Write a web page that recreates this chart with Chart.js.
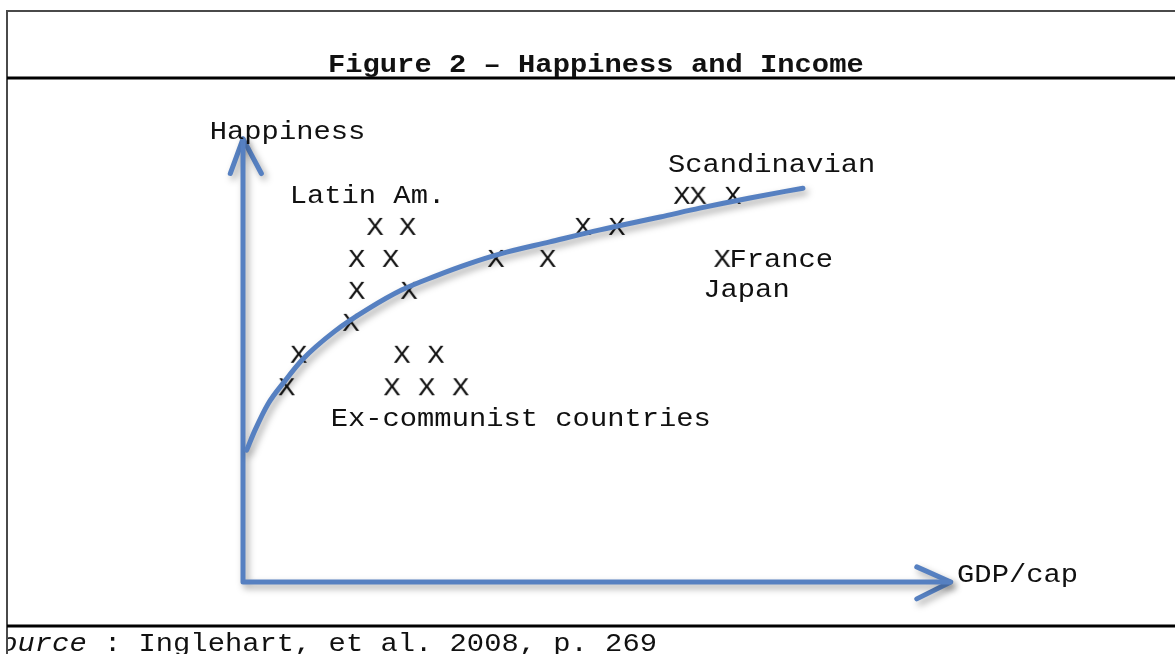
<!DOCTYPE html>
<html>
<head>
<meta charset="utf-8">
<script src="https://cdn.jsdelivr.net/npm/chart.js@4.4.0/dist/chart.umd.min.js"></script>
<style>
  html, body { margin:0; padding:0; background:#fff; }
  #wrap { position:relative; width:1175px; height:654px; overflow:hidden; }
</style>
</head>
<body>
<div id="wrap"><canvas id="c"></canvas></div>
<script>
// ── Data (GDP/cap on x, Happiness on y, arbitrary 0–100 units) ──
const curveGdp   = [0.52, 1.70, 3.54, 5.94, 8.35, 13.0, 17.7, 22.5, 27.2, 31.8, 36.4, 43.4, 50.5, 59.0, 64.6, 71.7, 79.2];
const curveHappy = [29.7, 34.2, 40.1, 45.3, 50.0, 56.5, 61.5, 65.8, 68.9, 71.6, 73.9, 76.6, 79.3, 82.2, 84.2, 86.5, 88.7];

// country marks ("X")
const markGdp   = [18.7, 23.3, 16.1, 20.9, 16.1, 23.5, 15.3, 7.9, 6.2,
                   22.5, 27.3, 21.1, 26.0, 30.8,
                   35.8, 43.1, 48.1, 52.9,
                   62.1, 64.4, 69.3, 67.8];
const markHappy = [80.2, 80.2, 73.0, 73.0, 65.8, 65.8, 58.6, 51.4, 44.1,
                   51.4, 51.4, 44.1, 44.1, 44.1,
                   73.0, 73.0, 80.2, 80.2,
                   87.2, 87.2, 87.2, 73.0];

// axes and arrow heads
const axisGdp    = [0, 0, 100];
const axisHappy  = [99.8, 0, 0];
const yArrowGdp   = [-1.8, 0, 2.6];
const yArrowHappy = [92.0, 99.8, 92.0];
const xArrowGdp   = [95.3, 100.1, 95.3];
const xArrowHappy = [3.4, 0, -3.8];

// annotations (left edge, baseline)
const labelText  = ['Happiness', 'Latin Am.', 'Scandinavian', 'France', 'Japan', 'Ex-communist countries', 'GDP/cap'];
const labelGdp   = [-4.7, 6.6, 60.1, 68.8, 65.1, 12.4, 101.0];
const labelHappy = [99.8, 85.4, 92.3, 70.9, 64.2, 35.1, 0.0];

const BLUE = '#5680c1';
const FONT = '28.8px "Liberation Mono", "DejaVu Sans Mono", monospace';
const SQUASH = 0.88;

const pts = (xs, ys) => xs.map((x, i) => ({ x, y: ys[i] }));

function fillSquashed(g, text, x, y) {
  g.save();
  g.translate(x, y);
  g.scale(1, SQUASH);
  g.fillText(text, 0, 0);
  g.restore();
}

// "X" glyph used as point style
function makeX() {
  const c = document.createElement('canvas');
  c.width = 24; c.height = 24;
  const g = c.getContext('2d');
  g.font = FONT;
  g.fillStyle = '#111';
  g.textAlign = 'center';
  g.textBaseline = 'alphabetic';
  const m = g.measureText('X');
  const h = (m.actualBoundingBoxAscent - m.actualBoundingBoxDescent) * SQUASH;
  fillSquashed(g, 'X', 12, 12 + h / 2);
  return c;
}

const shadowPlugin = {
  id: 'shadow',
  beforeDatasetDraw(chart, args) {
    if (!chart.data.datasets[args.index].shadow) return;
    const ctx = chart.ctx;
    ctx.save();
    ctx.shadowColor = 'rgba(0,0,0,0.35)';
    ctx.shadowBlur = 7;
    ctx.shadowOffsetX = 3;
    ctx.shadowOffsetY = 4;
  },
  afterDatasetDraw(chart, args) {
    if (chart.data.datasets[args.index].shadow) chart.ctx.restore();
  }
};

// frame, title, source line
const pagePlugin = {
  id: 'page',
  beforeDraw(chart) {
    const ctx = chart.ctx;
    ctx.save();
    ctx.fillStyle = '#fff';
    ctx.fillRect(0, 0, chart.width, chart.height);
    ctx.strokeStyle = '#4a4a4a';
    ctx.lineWidth = 2;
    ctx.beginPath();
    ctx.moveTo(7, 654); ctx.lineTo(7, 11); ctx.lineTo(1175, 11);
    ctx.stroke();
    ctx.strokeStyle = '#000';
    ctx.lineWidth = 3;
    ctx.beginPath();
    ctx.moveTo(7, 78); ctx.lineTo(1175, 78);
    ctx.moveTo(7, 626); ctx.lineTo(1175, 626);
    ctx.stroke();

    ctx.fillStyle = '#111';
    ctx.textBaseline = 'alphabetic';
    ctx.textAlign = 'left';
    ctx.font = 'bold ' + FONT;
    fillSquashed(ctx, 'Figure 2 \u2013 Happiness and Income', 328, 72);

    ctx.beginPath();
    ctx.rect(8, 628, 1167, 26);
    ctx.clip();
    ctx.font = 'italic ' + FONT;
    fillSquashed(ctx, 'Source', -17, 651);
    ctx.font = FONT;
    fillSquashed(ctx, ' : Inglehart, et al. 2008, p. 269', -17 + 6 * 17.28, 651);
    ctx.restore();
  },
  afterDatasetsDraw(chart) {
    const ctx = chart.ctx;
    const xs = chart.scales.x, ys = chart.scales.y;
    ctx.save();
    ctx.fillStyle = '#111';
    ctx.font = FONT;
    ctx.textAlign = 'left';
    ctx.textBaseline = 'alphabetic';
    labelText.forEach((t, i) => {
      fillSquashed(ctx, t, xs.getPixelForValue(labelGdp[i]), ys.getPixelForValue(labelHappy[i]));
    });
    ctx.restore();
  }
};

const lineDs = (data) => ({
  data, showLine: true, borderColor: BLUE, borderWidth: 5, pointRadius: 0,
  borderCapStyle: 'round', borderJoinStyle: 'round', clip: false, shadow: true
});

new Chart(document.getElementById('c'), {
  type: 'scatter',
  data: {
    datasets: [
      Object.assign(lineDs(pts(curveGdp, curveHappy)), { cubicInterpolationMode: 'monotone' }),
      lineDs(pts(axisGdp, axisHappy)),
      lineDs(pts(yArrowGdp, yArrowHappy)),
      lineDs(pts(xArrowGdp, xArrowHappy)),
      { data: pts(markGdp, markHappy), pointStyle: makeX(), pointRadius: 6, clip: false }
    ]
  },
  options: {
    responsive: true,
    maintainAspectRatio: false,
    animation: false,
    layout: { padding: { left: 243, right: 225, top: 138, bottom: 72 } },
    scales: {
      x: { type: 'linear', min: 0, max: 100, display: false },
      y: { type: 'linear', min: 0, max: 100, display: false }
    },
    plugins: { legend: { display: false }, tooltip: { enabled: false } }
  },
  plugins: [shadowPlugin, pagePlugin]
});
</script>
</body>
</html>
